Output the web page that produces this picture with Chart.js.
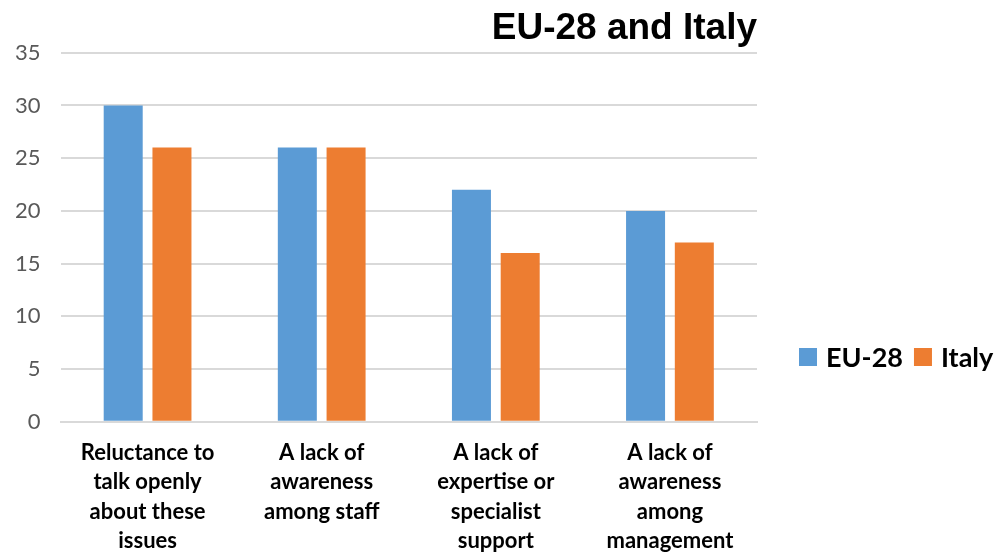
<!DOCTYPE html>
<html>
<head>
<meta charset="utf-8">
<script src="https://cdn.jsdelivr.net/npm/chart.js@4.4.1/dist/chart.umd.min.js"></script>
<style>
  html, body { margin: 0; padding: 0; background: #fff; }
  #wrap { width: 1001px; height: 554px; position: relative; }
</style>
</head>
<body>
<div id="wrap"><canvas id="barrierChart"></canvas></div>
<script>
'use strict';

// Barriers chart data
const categories = [
    ['Reluctance to', 'talk openly', 'about these', 'issues'],
    ['A lack of', 'awareness', 'among staff'],
    ['A lack of', 'expertise or', 'specialist', 'support'],
    ['A lack of', 'awareness', 'among', 'management']
];
const seriesNames = ['EU-28', 'Italy'];
const eu28Values = [30, 26, 22, 20];
const italyValues = [26, 26, 16, 17];
const yTicks = [0, 5, 10, 15, 20, 25, 30, 35];

const colors = ['#5B9BD5', '#ED7D31'];
const labelFont = 'Lato, "Open Sans", sans-serif';

// Legend drawn to the right of the plot, level with the lower half
const sideLegend = {
    id: 'sideLegend',
    afterDraw(chart) {
        const ctx = chart.ctx;
        let x = 799;
        const y = 357;
        ctx.save();
        ctx.font = 'bold 27px ' + labelFont;
        ctx.textBaseline = 'middle';
        chart.data.datasets.forEach(function(ds) {
            ctx.fillStyle = ds.backgroundColor;
            ctx.fillRect(x, y - 9, 18, 18);
            ctx.fillStyle = '#000';
            ctx.fillText(ds.label, x + 27, y + 1);
            x += 27 + ctx.measureText(ds.label).width + 11;
        });
        ctx.restore();
    }
};

document.addEventListener('DOMContentLoaded', function() {
    const canvas = document.getElementById('barrierChart');
    const ctx = canvas.getContext('2d');

    new Chart(ctx, {
        type: 'bar',
        data: {
            labels: categories,
            datasets: [
                {
                    label: seriesNames[0],
                    data: eu28Values,
                    backgroundColor: colors[0],
                    categoryPercentage: 0.56,
                    barPercentage: 0.8
                },
                {
                    label: seriesNames[1],
                    data: italyValues,
                    backgroundColor: colors[1],
                    categoryPercentage: 0.56,
                    barPercentage: 0.8
                }
            ]
        },
        options: {
            responsive: true,
            maintainAspectRatio: false,
            animation: false,
            layout: {
                padding: { left: -5, right: 244, top: 0, bottom: -18 }
            },
            scales: {
                x: {
                    grid: { display: false, drawTicks: false },
                    border: { display: true, color: '#d9d9d9', width: 2 },
                    ticks: {
                        color: '#000',
                        padding: 17,
                        maxRotation: 0,
                        autoSkip: false,
                        font: { family: labelFont, size: 22, weight: 'bold', lineHeight: 1.32 }
                    }
                },
                y: {
                    min: 0,
                    max: 35,
                    afterBuildTicks: function(axis) {
                        axis.ticks = yTicks.map(function(v) { return { value: v }; });
                    },
                    grid: { color: '#d9d9d9', lineWidth: 2, drawTicks: false },
                    border: { display: false },
                    ticks: {
                        color: '#595959',
                        padding: 20,
                        font: { family: labelFont, size: 22 }
                    }
                }
            },
            plugins: {
                legend: { display: false },
                tooltip: { enabled: false },
                title: {
                    display: true,
                    text: 'EU-28 and Italy',
                    align: 'end',
                    color: '#000',
                    padding: { top: 8, bottom: 4 },
                    font: { family: '"Liberation Sans", Arial, sans-serif', size: 37, weight: 'bold', lineHeight: 1.1 }
                }
            }
        },
        plugins: [sideLegend]
    });
});
</script>
</body>
</html>
